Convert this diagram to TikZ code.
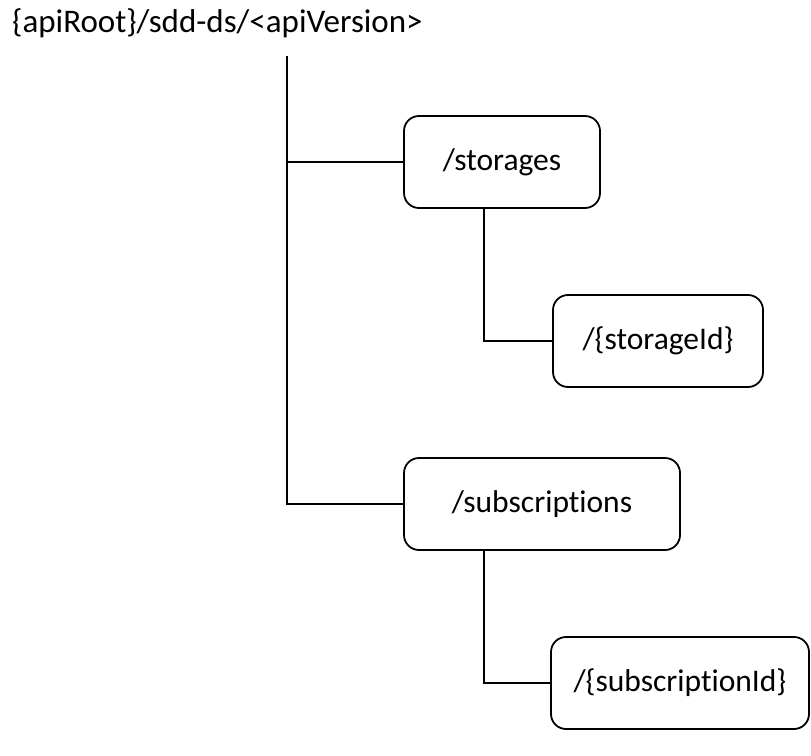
\documentclass[tikz,border=0pt]{standalone}
\usepackage{fontspec}
\setmainfont[Ligatures={NoCommon}]{Carlito}
\usetikzlibrary{positioning}
\tikzset{resnode/.style={draw,
                        rounded corners=15pt,
                        line width=1.8pt,
                        minimum height=92pt,
                        font=\fontsize{31.5}{36}\selectfont,
                        anchor=center
                        },
        treeline/.style={line width=1.8pt},
}

\begin{document}
\begin{tikzpicture}
    [x=1pt,y=-1pt]
    \useasboundingbox (0,0) rectangle (811,755);

    % ROOT
    \node[anchor=base west, inner sep=0pt, font=\fontsize{33}{38}\selectfont] (rootpath) at (12,32) {\{apiRoot\}/sdd-ds/<apiVersion>};
    \coordinate (trunktop) at (287,56);

    % RESOURCES
    \node[resnode, minimum width=196pt] (storages) at (502,162) {/storages};
    \node[resnode, minimum width=210pt] (storageId) at (658,341) {/\{storageId\}};
    \node[resnode, minimum width=276pt] (subscriptions) at (542,504) {/subscriptions};
    \node[resnode, minimum width=258pt] (subscriptionId) at (680,683) {/\{subscriptionId\}};

    \draw[treeline] (trunktop) |- (subscriptions.west);
    \draw[treeline] (trunktop |- storages.west) -- (storages.west);
    \draw[treeline] ([xshift=81pt]storages.south west) |- (storageId.west);
    \draw[treeline] ([xshift=81pt]subscriptions.south west) |- (subscriptionId.west);

\end{tikzpicture}
\end{document}
